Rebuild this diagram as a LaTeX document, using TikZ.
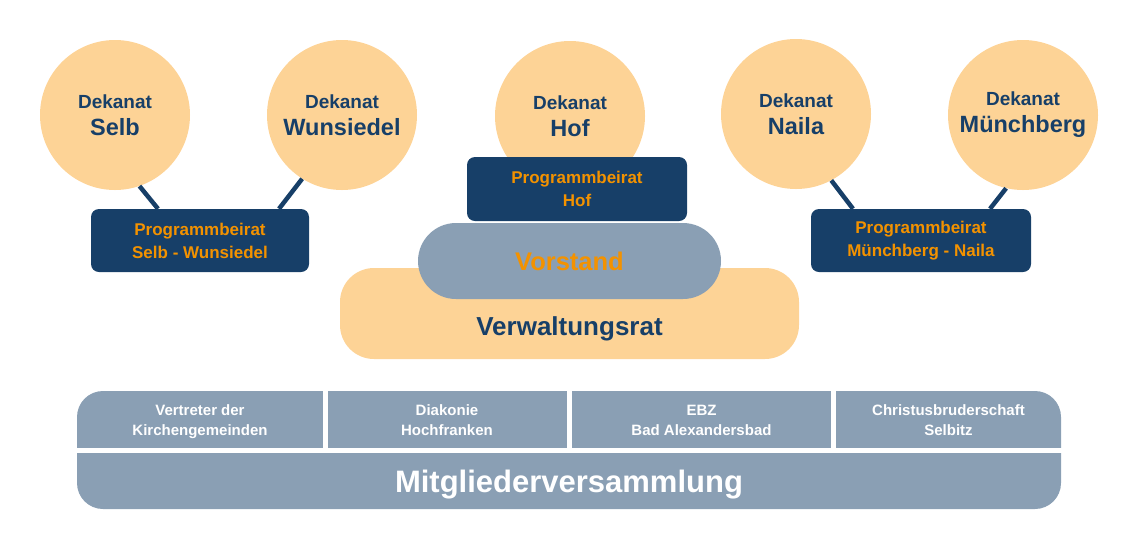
\documentclass[tikz,border=0pt]{standalone}
\usepackage{fontspec}
\setmainfont{Liberation Sans}
\definecolor{peach}{HTML}{FDD396}
\definecolor{navy}{HTML}{173F68}
\definecolor{amber}{HTML}{F39200}
\definecolor{slate}{HTML}{8A9FB4}
\tikzset{
  dekanat/.style={circle, fill=peach, minimum size=150pt, inner sep=0pt, align=center,
    text=navy, font=\bfseries\fontsize{19}{27}\selectfont},
  beirat/.style={rectangle, rounded corners=8pt, fill=navy, align=center, inner sep=0pt,
    text=amber, font=\bfseries\fontsize{17}{23}\selectfont},
  member/.style={align=center, text=white, font=\bfseries\fontsize{15}{20}\selectfont},
  link/.style={navy, line width=4.5pt}
}
\newcommand{\placename}[1]{{\fontsize{23.5}{27}\selectfont #1}}
\begin{document}
\begin{tikzpicture}[x=1pt,y=-1pt]
  \useasboundingbox (0,0) rectangle (1138,550);
  \node[dekanat] (selb) at (115,115) {Dekanat\\\placename{Selb}};
  \node[dekanat] (wunsiedel) at (342,115) {Dekanat\\\placename{Wunsiedel}};
  \node[dekanat] (hof) at (570,116) {Dekanat\\\placename{Hof}};
  \node[dekanat] (naila) at (796,114) {Dekanat\\\placename{Naila}};
  \node[dekanat] (muenchberg) at (1023,115) {Dekanat\\\placename{Münchberg}};
  \node[beirat, minimum width=218pt, minimum height=63pt] (pbsw) at (200,240.5) {Programmbeirat\\Selb - Wunsiedel};
  \node[beirat, minimum width=220pt, minimum height=64pt] (pbhof) at (577,189) {Programmbeirat\\Hof};
  \node[beirat, minimum width=220pt, minimum height=63pt] (pbmn) at (921,240.5) {Programmbeirat\\Münchberg - Naila};
  \draw[link] (selb.-71) -- ([xshift=-42pt]pbsw.north);
  \draw[link] (wunsiedel.-122) -- ([xshift=79pt]pbsw.north);
  \draw[link] (naila.-62) -- ([xshift=-68pt]pbmn.north);
  \draw[link] (muenchberg.-103) -- ([xshift=69pt]pbmn.north);
  \node[rectangle, rounded corners=34pt, fill=peach, minimum width=459pt, minimum height=91pt,
    text=navy, font=\bfseries\fontsize{26}{30}\selectfont, text height=44pt, text depth=0pt] (verwaltungsrat) at (569.5,313.5) {Verwaltungsrat};
  \node[rectangle, rounded corners=38pt, fill=slate, minimum width=303pt, minimum height=76pt,
    text=amber, font=\bfseries\fontsize{25.5}{30}\selectfont] (vorstand) at (569.5,261) {Vorstand};
  \fill[slate, rounded corners=26pt] (77,391) rectangle (1061,509);
  \draw[white, line width=5pt] (70,450.5) -- (1070,450.5);
  \foreach \gx in {325.5,569,833.5}
    \draw[white, line width=5pt] (\gx,385) -- (\gx,450.5);
  \node[member] (gemeinden) at (200,422) {Vertreter der\\Kirchengemeinden};
  \node[member] (diakonie) at (447,420) {Diakonie\\Hochfranken};
  \node[member] (ebz) at (701.5,420) {EBZ\\Bad Alexandersbad};
  \node[member] (selbitz) at (948.5,420) {Christusbruderschaft\\Selbitz};
  \node[text=white, font=\bfseries\fontsize{31}{36}\selectfont] (mitglieder) at (569,485) {Mitgliederversammlung};
\end{tikzpicture}
\end{document}
